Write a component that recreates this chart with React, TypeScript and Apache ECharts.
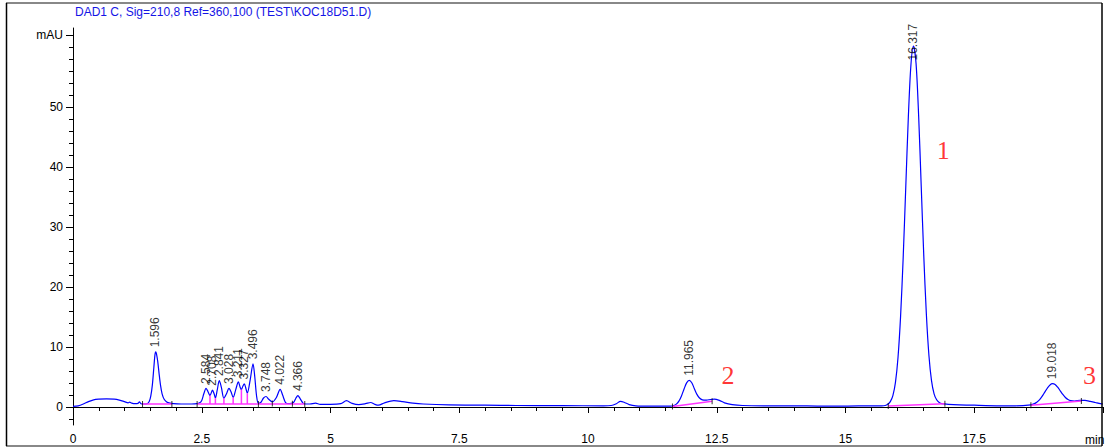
import React, { useEffect, useRef } from "react";
import * as echarts from "echarts";

// Chromatogram trace [time (min), signal (mAU)]
const signal: [number, number][] = [
  [0, 0.1], [0.1, 0.2], [0.2, 0.5], [0.3, 0.9], [0.4, 1.2], [0.5, 1.3], [0.65, 1.35], [0.8, 1.3], [0.9, 1.15],
  [1.0, 0.9], [1.07, 0.7], [1.1, 0.8], [1.14, 0.65], [1.2, 0.55], [1.26, 0.6], [1.29, 0.85], [1.32, 0.55],
  [1.37, 0.5], [1.44, 0.55], [1.48, 0.9], [1.51, 1.8], [1.54, 3.6], [1.57, 6.6], [1.59, 8.6], [1.605, 9.2],
  [1.62, 8.9], [1.645, 7.6], [1.67, 5.7], [1.7, 3.6], [1.73, 2.2], [1.77, 1.3], [1.82, 0.85], [1.88, 0.65],
  [1.95, 0.55], [2.1, 0.5], [2.3, 0.5], [2.41, 0.55], [2.46, 0.7], [2.5, 1.1], [2.54, 2.2], [2.584, 3.1],
  [2.62, 2.6], [2.66, 1.9], [2.708, 2.8], [2.74, 2.2], [2.765, 1.5], [2.8, 2.8], [2.841, 4.4], [2.88, 3.3],
  [2.93, 1.45], [2.98, 2.2], [3.028, 3.1], [3.07, 2.5], [3.11, 1.6], [3.16, 2.9], [3.211, 4.2], [3.245, 3.3],
  [3.27, 2.9], [3.3, 3.5], [3.327, 3.85], [3.36, 3.0], [3.385, 2.3], [3.44, 4.5], [3.496, 7.2], [3.53, 5.0],
  [3.565, 1.8], [3.6, 0.6], [3.65, 0.8], [3.7, 1.5], [3.748, 1.75], [3.8, 1.3], [3.87, 0.85], [3.95, 1.6],
  [4.022, 2.95], [4.07, 2.0], [4.13, 0.7], [4.2, 0.55], [4.28, 0.75], [4.33, 1.5], [4.366, 1.9], [4.41, 1.4],
  [4.47, 0.6], [4.52, 0.5], [4.6, 0.5], [4.71, 0.65], [4.8, 0.45], [5.0, 0.45], [5.2, 0.55], [5.31, 1.05],
  [5.42, 0.6], [5.55, 0.4], [5.68, 0.55], [5.78, 0.75], [5.86, 0.45], [5.93, 0.3], [6.05, 0.7], [6.23, 1.05],
  [6.4, 0.9], [6.6, 0.65], [6.8, 0.5], [7.3, 0.35], [8.0, 0.3], [8.6, 0.25], [9.5, 0.22], [10.3, 0.2],
  [10.45, 0.25], [10.55, 0.55], [10.63, 0.95], [10.7, 0.8], [10.8, 0.4], [10.93, 0.2], [11.2, 0.15],
  [11.6, 0.15], [11.665, 0.25], [11.715, 0.48], [11.765, 0.97], [11.815, 1.85], [11.865, 2.99], [11.915, 4.03],
  [11.965, 4.45], [12.015, 4.05], [12.065, 3.05], [12.115, 2.1], [12.165, 1.5], [12.22, 1.2], [12.3, 1.15],
  [12.38, 1.25], [12.45, 1.3], [12.55, 1.1], [12.65, 0.7], [12.8, 0.4], [13.0, 0.25], [13.5, 0.2], [14.0, 0.2],
  [14.5, 0.15], [15.0, 0.15], [15.5, 0.2], [15.7, 0.2], [15.77, 0.25], [15.82, 0.45], [15.87, 0.9], [15.92, 1.9],
  [15.97, 4.1], [16.02, 8.3], [16.07, 15.2], [16.12, 24.9], [16.17, 36.6], [16.22, 48.3], [16.27, 57.0],
  [16.32, 60.2], [16.37, 57.3], [16.42, 48.6], [16.47, 36.9], [16.52, 25.2], [16.57, 15.5], [16.62, 8.6],
  [16.67, 4.4], [16.72, 2.2], [16.77, 1.2], [16.82, 0.75], [16.87, 0.55], [17.0, 0.45], [17.5, 0.3], [18.0, 0.2],
  [18.3, 0.2], [18.6, 0.37], [18.67, 0.57], [18.72, 0.83], [18.77, 1.24], [18.82, 1.81], [18.87, 2.49],
  [18.92, 3.16], [18.97, 3.68], [19.02, 3.89], [19.07, 3.75], [19.12, 3.3], [19.17, 2.7], [19.22, 2.09],
  [19.27, 1.59], [19.32, 1.25], [19.37, 1.06], [19.45, 1.0], [19.55, 1.1], [19.65, 1.1], [19.75, 0.95],
  [19.85, 0.75], [19.95, 0.55], [20, 0.5],
];

// Integrated peaks: retention time labels and apex heights
const peakTimes = [1.596, 2.584, 2.708, 2.841, 3.028, 3.211, 3.327, 3.496, 3.748, 4.022, 4.366, 11.965, 16.317, 19.018];
const peakHeights = [9.2, 3.1, 2.8, 4.4, 3.1, 4.2, 3.85, 7.2, 1.75, 2.95, 1.9, 4.45, 60.2, 3.89];
const peakLabels = ["1.596", "2.584", "2.708", "2.841", "3.028", "3.211", "3.327", "3.496", "3.748", "4.022", "4.366", "11.965", "16.317", "19.018"];

// Integration baselines (pink)
const baselineSegments: [number, number][][] = [
  [[1.35, 0.5], [1.92, 0.5]],
  [[2.41, 0.5], [4.5, 0.5]],
  [[11.64, 0.1], [12.41, 0.95]],
  [[15.83, 0.15], [16.93, 0.55]],
  [[18.6, 0.3], [19.58, 1.0]],
];

// Drop lines between unresolved peaks
const dropTimes = [2.66, 2.765, 2.93, 3.11, 3.27, 3.385];
const dropBottoms = [0.5, 0.5, 0.5, 0.5, 0.5, 0.5];
const dropTops = [1.9, 1.5, 1.45, 1.6, 2.9, 2.3];

// Peak start / end markers
const markerPoints: [number, number][] = [
  [1.35, 0.5], [1.92, 0.5], [2.41, 0.5], [3.6, 0.5], [3.87, 0.6], [4.26, 0.55], [4.5, 0.5],
  [11.64, 0.1], [12.41, 0.95], [15.83, 0.15], [16.93, 0.55], [18.6, 0.3], [19.58, 1.0],
];

const yMinorTicks = [-2, 0, 2, 4, 6, 8, 10, 12, 14, 16, 18, 20, 22, 24, 26, 28, 30, 32, 34, 36, 38, 40, 42, 44, 46, 48, 50, 52, 54, 56, 58, 60, 62];
const yMajorTicks = [0, 10, 20, 30, 40, 50, 62];

const title = "DAD1 C, Sig=210,8 Ref=360,100 (TEST\\KOC18D51.D)";
const annotations = [
  { text: "1", t: 16.9, v: 42.8 },
  { text: "2", t: 12.72, v: 5.3 },
  { text: "3", t: 19.74, v: 5.3 },
];

const FONT = "'Liberation Sans', Arial, sans-serif";

export default function App() {
  const ref = useRef<HTMLDivElement>(null);
  useEffect(() => {
    const chart = echarts.init(ref.current!, null, { renderer: "svg" });
    const series: any[] = [];
    series.push({
      type: "line",
      data: signal,
      showSymbol: false,
      symbol: "none",
      smooth: 0.3,
      lineStyle: { color: "#0000ff", width: 1.2 },
      z: 3,
    });
    baselineSegments.forEach((seg) => {
      series.push({
        type: "line",
        data: seg,
        symbol: "none",
        lineStyle: { color: "#ff33ff", width: 1.5 },
        z: 4,
      });
    });
    dropTimes.forEach((t, i) => {
      series.push({
        type: "line",
        data: [[t, dropBottoms[i]], [t, dropTops[i]]],
        symbol: "none",
        lineStyle: { color: "#ff33ff", width: 1.5 },
        z: 4,
      });
    });
    series.push({
      type: "scatter",
      data: markerPoints,
      symbol: "rect",
      symbolSize: [1, 6],
      itemStyle: { color: "#000" },
      z: 5,
    });
    series.push({
      type: "scatter",
      data: peakTimes.map((t, i) => {
        const item: any = { value: [t, peakHeights[i]] };
        // label pushed down over the tall peak (offset is in the rotated frame)
        if (peakLabels[i] === "16.317") item.label = { offset: [-19, 0] };
        return item;
      }),
      symbolSize: 1,
      itemStyle: { color: "rgba(0,0,0,0)" },
      label: {
        show: true,
        rotate: 90,
        position: "top",
        distance: 4,
        align: "left",
        verticalAlign: "middle",
        fontSize: 12,
        fontFamily: FONT,
        color: "#000",
        formatter: (p: any) => peakLabels[p.dataIndex],
      },
      z: 6,
    });
    series.push({
      type: "scatter",
      data: annotations.map((a) => ({ value: [a.t, a.v], name: a.text })),
      symbolSize: 1,
      itemStyle: { color: "rgba(0,0,0,0)" },
      label: {
        show: true,
        position: "inside",
        formatter: (p: any) => p.name,
        fontSize: 26,
        fontFamily: "'Liberation Serif', 'Times New Roman', serif",
        color: "#ff0000",
      },
      z: 6,
    });

    chart.setOption({
      animation: false,
      backgroundColor: "#fff",
      grid: { left: 73, right: 4, top: 28, bottom: 23 },
      xAxis: [
        {
          type: "value", min: 0, max: 20, interval: 0.5,
          axisLine: { lineStyle: { color: "#000", width: 1 } },
          axisTick: { length: 4, lineStyle: { color: "#000" } },
          axisLabel: { show: false },
          splitLine: { show: false },
        },
        {
          type: "value", min: 0, max: 20, interval: 2.5, position: "bottom",
          axisLine: { show: false },
          axisTick: { length: 6, lineStyle: { color: "#000" } },
          axisLabel: {
            fontSize: 12, fontFamily: FONT, color: "#000", margin: 8,
            formatter: (v: number) => (v === 20 ? "" : String(v)),
          },
          splitLine: { show: false },
        },
      ],
      yAxis: [
        {
          type: "value", min: -3, max: 63.2,
          axisLine: { show: true, lineStyle: { color: "#000", width: 1 } },
          axisTick: { show: true, length: 4, customValues: yMinorTicks, lineStyle: { color: "#000" } },
          axisLabel: { show: false },
          splitLine: { show: false },
        },
        {
          type: "value", min: -3, max: 63.2, position: "left",
          axisLine: { show: false },
          axisTick: { show: true, length: 7, customValues: yMajorTicks, lineStyle: { color: "#000" } },
          axisLabel: {
            show: true, customValues: yMajorTicks, fontSize: 12, fontFamily: FONT, color: "#000", margin: 10,
            formatter: (v: number) => (v === 62 ? "mAU" : String(v)),
          },
          splitLine: { show: false },
        },
      ],
      series,
      graphic: [
        {
          type: "text", x: 75, y: 12,
          style: { text: title, font: `12px ${FONT}`, fill: "#1414e6", verticalAlign: "middle", align: "left" },
        },
        {
          type: "text", x: 1085, y: 440,
          style: { text: "min", font: `12px ${FONT}`, fill: "#000", verticalAlign: "middle", align: "left" },
        },
        { type: "line", shape: { x1: 6, y1: 3, x2: 1102, y2: 3 }, style: { stroke: "#888", lineWidth: 2 }, z: 100 },
        { type: "line", shape: { x1: 6, y1: 446, x2: 1102, y2: 446 }, style: { stroke: "#888", lineWidth: 2 }, z: 100 },
        { type: "line", shape: { x1: 6.5, y1: 3, x2: 6.5, y2: 446 }, style: { stroke: "#000", lineWidth: 1.5 }, z: 100 },
        { type: "line", shape: { x1: 1102, y1: 3, x2: 1102, y2: 446 }, style: { stroke: "#000", lineWidth: 1.5 }, z: 100 },
      ],
    });
    return () => chart.dispose();
  }, []);
  return (
    <div
      ref={ref}
      style={{ position: "fixed", left: 0, top: 0, width: 1107, height: 448, background: "#fff" }}
    />
  );
}
